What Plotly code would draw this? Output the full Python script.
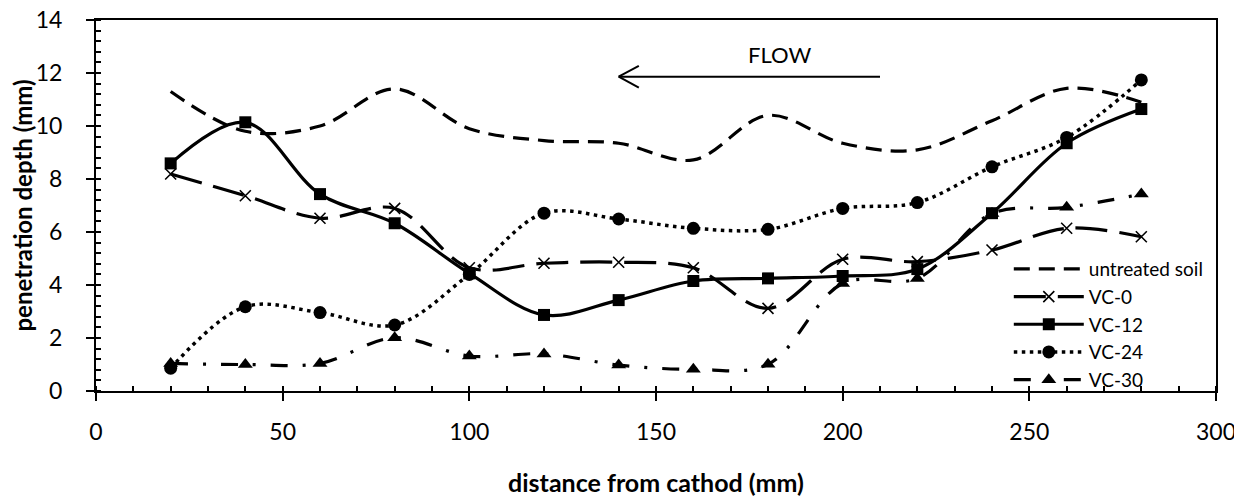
import plotly.graph_objects as go

distance = [20, 40, 60, 80, 100, 120, 140, 160, 180, 200, 220, 240, 260, 280]
untreated = [11.3, 9.8, 10.0, 11.4, 9.9, 9.45, 9.35, 8.72, 10.4, 9.35, 9.1, 10.2, 11.42, 10.9]
vc0 = [8.19, 7.37, 6.52, 6.89, 4.65, 4.82, 4.86, 4.65, 3.12, 4.97, 4.88, 5.32, 6.14, 5.82]
vc12 = [8.59, 10.14, 7.43, 6.33, 4.44, 2.87, 3.43, 4.15, 4.25, 4.34, 4.6, 6.71, 9.35, 10.64]
vc24 = [0.86, 3.18, 2.96, 2.49, 4.4, 6.71, 6.49, 6.14, 6.1, 6.89, 7.11, 8.46, 9.57, 11.74]
vc30 = [1.04, 1.0, 1.04, 2.01, 1.32, 1.40, 0.98, 0.82, 1.01, 4.06, 4.25, 6.7, 6.93, 7.43]

FONT = "Lato"
BLACK = "#000000"

fig = go.Figure()

fig.add_trace(go.Scatter(
    x=distance, y=untreated, name="untreated soil", mode="lines",
    line=dict(color=BLACK, width=3.2, dash="16px,9px", shape="spline", smoothing=1),
))
fig.add_trace(go.Scatter(
    x=distance, y=vc0, name="VC-0", mode="lines+markers",
    line=dict(color=BLACK, width=3.2, dash="32px,12px", shape="spline", smoothing=1),
    marker=dict(symbol="x-thin", size=11, color=BLACK, line=dict(color=BLACK, width=1.6)),
))
fig.add_trace(go.Scatter(
    x=distance, y=vc12, name="VC-12", mode="lines+markers",
    line=dict(color=BLACK, width=3.2, shape="spline", smoothing=1),
    marker=dict(symbol="square", size=12, color=BLACK),
))
fig.add_trace(go.Scatter(
    x=distance, y=vc24, name="VC-24", mode="lines+markers",
    line=dict(color=BLACK, width=3.5, dash="3.5px,4.5px", shape="spline", smoothing=1),
    marker=dict(symbol="circle", size=13, color=BLACK),
))
fig.add_trace(go.Scatter(
    x=distance, y=vc30, name="VC-30", mode="lines+markers",
    line=dict(color=BLACK, width=3.2, dash="17px,15px,3px,15px", shape="spline", smoothing=1),
    marker=dict(symbol="triangle-up", size=13, color=BLACK),
))

# FLOW arrow
fig.add_shape(type="line", x0=210, y0=11.86, x1=140, y1=11.86, line=dict(color=BLACK, width=2))
fig.add_shape(type="line", x0=140, y0=11.86, x1=145.4, y1=12.27, line=dict(color=BLACK, width=2))
fig.add_shape(type="line", x0=140, y0=11.86, x1=145.4, y1=11.45, line=dict(color=BLACK, width=2))
fig.add_annotation(x=183, y=12.68, text="FLOW", showarrow=False,
                   font=dict(family=FONT, size=22, color=BLACK))

axis_common = dict(
    showgrid=False, zeroline=False, showline=True, linecolor=BLACK, linewidth=2,
    mirror=True, ticks="outside", ticklen=8, tickwidth=2, tickcolor=BLACK,
    tickfont=dict(family=FONT, size=23, color=BLACK), automargin=False,
    ticklabeloverflow="allow",
)

# page body has an 8px default margin; figure is sized/offset to compensate
fig.update_layout(
    width=1234, height=491,
    margin=dict(l=88, r=26, t=12, b=108),
    paper_bgcolor="white", plot_bgcolor="white",
    font=dict(family=FONT, size=21, color=BLACK),
    showlegend=True,
    legend=dict(
        x=0.815, y=-0.0216, xanchor="left", yanchor="bottom",
        bgcolor="rgba(255,255,255,0)", borderwidth=0,
        font=dict(family=FONT, size=19, color=BLACK),
        itemwidth=70, tracegroupgap=0,
    ),
    xaxis=dict(
        range=[0, 300], tick0=0, dtick=50, **axis_common,
        ticklabelstandoff=11,
        minor=dict(ticks="inside", dtick=10, ticklen=5, tickwidth=1.5, tickcolor=BLACK),
        title=dict(text="<b>distance from cathod (mm)</b>", standoff=31,
                   font=dict(family=FONT, size=25, color=BLACK)),
    ),
    yaxis=dict(
        range=[0, 14], tick0=0, dtick=2, **axis_common,
        ticklabelstandoff=19,
        minor=dict(ticks="inside", dtick=0.4, ticklen=5, tickwidth=1.5, tickcolor=BLACK),
        title=dict(text="<b>penetration depth (mm)</b>", standoff=14,
                   font=dict(family=FONT, size=24, color=BLACK)),
    ),
    xaxis2=dict(
        overlaying="x", anchor="y", side="bottom", range=[0, 300], tick0=0, dtick=50,
        ticks="inside", ticklen=8, tickwidth=2, tickcolor=BLACK, automargin=False,
        showticklabels=False, showline=False, showgrid=False, zeroline=False,
    ),
    yaxis2=dict(
        overlaying="y", anchor="x", side="left", range=[0, 14], tick0=0, dtick=2,
        ticks="inside", ticklen=8, tickwidth=2, tickcolor=BLACK, automargin=False,
        showticklabels=False, showline=False, showgrid=False, zeroline=False,
    ),
)

fig.write_html("out.html")
